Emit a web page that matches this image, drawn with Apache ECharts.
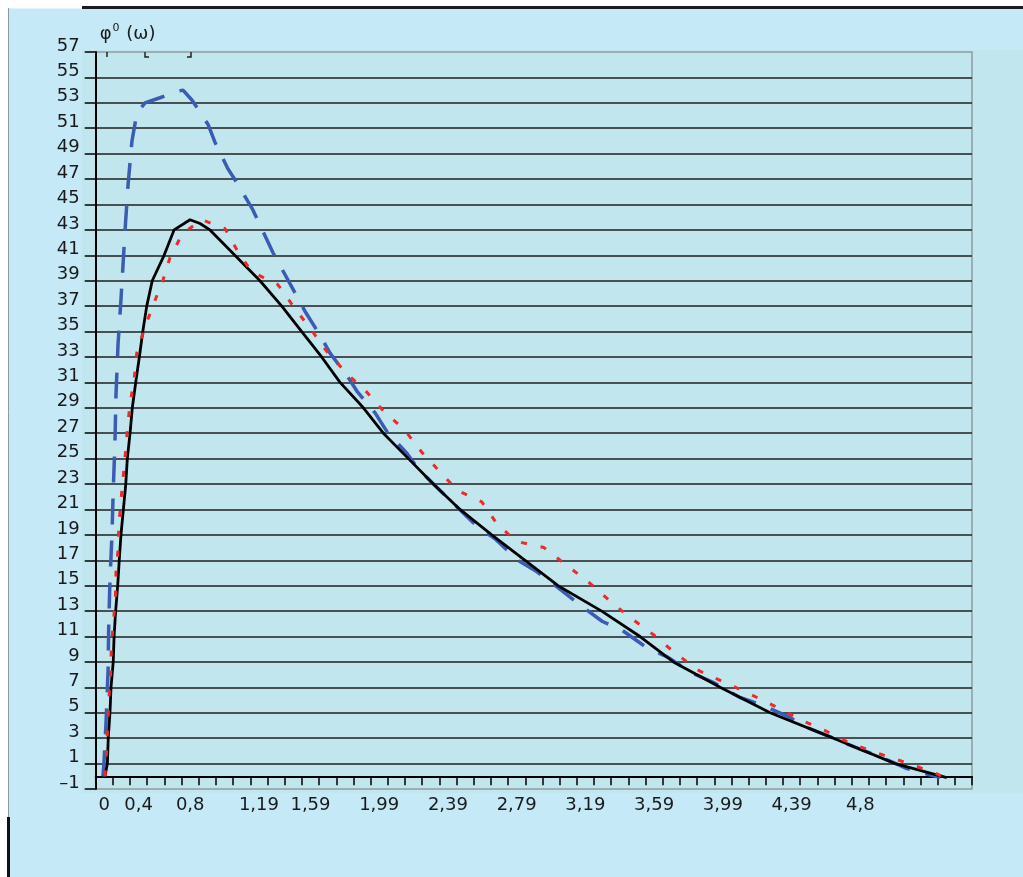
<!DOCTYPE html>
<html>
<head>
<meta charset="utf-8">
<script src="https://cdn.jsdelivr.net/npm/echarts@6/dist/echarts.min.js"></script>
<style>
html,body{margin:0;padding:0;background:#ffffff;}
#c{width:1023px;height:877px;}
</style>
</head>
<body>
<div id="c"></div>
<script>
// Tick labels of the frequency axis, one per category slot (51 slots)
const tickLabels = [
  '0','','0,4','','','0,8','','','','1,19','','','1,59','','','','1,99','','','','2,39','','','',
  '2,79','','','','3,19','','','','3,59','','','','3,99','','','','4,39','','','','4,8','','','','','',''
];

// Positions along the frequency axis (in category-slot units) and phase values
const blackPos = [0.54,0.68,0.73,0.83,0.89,1.02,1.07,1.16,1.28,1.37,1.47,1.61,1.75,1.84,2.00,2.13,2.33,2.54,2.74,2.97,3.29,3.98,4.56,5.49,6.07,6.65,8.10,9.56,10.83,11.99,13.15,14.22,15.58,16.74,18.20,19.65,21.20,23.05,24.99,26.91,29.45,31.68,33.62,36.34,39.25,42.93,46.53,49.53];
const blackPhi = [0,1,3,5,7,9,11,13,15,17,19,21,23,25,27,29,31,33,35,37,39,41,43,43.8,43.5,43,41,39,37,35,33,31,29,27,25,23,21,19,17,15,13,11,9,7,5,3,1,-0.1];

const bluePos = [0.42,0.48,0.60,0.72,0.76,0.83,0.95,1.02,1.12,1.18,1.30,1.47,1.71,1.88,2.11,2.40,2.87,3.74,4.73,5.08,5.61,6.54,6.94,7.70,8.22,9.10,10.32,11.66,12.18,13.06,13.64,14.69,15.21,16.26,16.96,18.12,18.76,20.04,21.03,22.25,23.24,24.58,25.57,26.85,28.07,29.47,30.63,32.09,33.25,34.76,35.93,37.50,38.78,40.30,41.29,42.92,44.19,46.06,47.22,49.14];
const bluePhi = [0,1,4.2,8.3,12,15.4,19.1,22.5,26.2,30,34,37.5,43,46.5,50,52.2,53,53.4,53.9,54,53.2,51.3,49.9,47.8,46.7,44.7,41.2,37.9,36.6,34.7,33.3,31.4,30.3,28.6,27.1,25.4,24.2,22.5,21.2,19.6,18.7,17.0,16.2,14.9,13.6,12.2,11.5,10.1,9.4,8.1,7.4,6.2,5.6,4.7,3.9,3.0,2.3,1.3,0.6,-0.1];

const redPos = [0.54,0.64,0.77,0.87,0.91,1.02,1.14,1.18,1.30,1.35,1.47,1.61,1.75,1.86,2.00,2.25,2.39,2.83,3.35,3.93,4.32,5.04,6.17,7.53,8.27,9.08,10.60,11.60,12.57,13.41,14.61,15.73,16.78,17.95,18.98,19.94,21.05,22.47,23.34,24.46,26.09,27.31,28.67,29.84,31.10,32.50,33.72,35.13,36.57,38.04,39.54,41.09,42.45,43.91,45.55,47.21,48.85,49.26];
const redPhi = [0,2.2,6.2,8.1,10.1,12.0,13.9,16.0,17.8,19.8,21.7,23.7,25.7,27.6,29.3,31.4,33.3,35.2,37.1,39.1,40.8,42.7,43.8,43.1,41.3,39.7,38.7,36.8,35.1,33.5,31.7,30.3,28.7,27.3,25.5,24.1,22.5,21.6,19.9,18.5,18.0,16.7,15.3,13.9,12.5,11.1,9.7,8.3,7.4,6.5,5.5,4.4,3.6,2.6,1.8,1.05,0.26,0];

const yMin = -1, yMax = 57, yStep = 2;

function pairs(xs, ys){ return xs.map((x,i)=>[x, ys[i]]); }

const FONT = 'DejaVu Sans';
const chart = echarts.init(document.getElementById('c'), null, {renderer:'canvas'});
chart.setOption({
  backgroundColor: '#ffffff',
  animation: false,
  graphic: [
    {type:'rect', z:-20, silent:true, shape:{x:8.5,y:8.5,width:1015,height:869}, style:{fill:'#c5e9f7'}},
    {type:'rect', z:-19, silent:true, shape:{x:82,y:50,width:941,height:743}, style:{fill:'#c1e6ee'}},
    {type:'rect', z:-18, silent:true, shape:{x:82,y:6,width:941,height:3}, style:{fill:'#1c1c1c'}},
    {type:'line', z:-18, silent:true, shape:{x1:8.5,y1:8,x2:8.5,y2:817}, style:{stroke:'#8a9aa0',lineWidth:1}},
    {type:'rect', z:-18, silent:true, shape:{x:7,y:817,width:3,height:60}, style:{fill:'#111111'}},
    {type:'polyline', z:10, silent:true, shape:{points:[[107,52],[107,57]]}, style:{stroke:'#222',lineWidth:1.5,fill:null}},
    {type:'polyline', z:10, silent:true, shape:{points:[[145,52],[145,57],[149,57]]}, style:{stroke:'#222',lineWidth:1.5,fill:null}},
    {type:'polyline', z:10, silent:true, shape:{points:[[187,57],[191,57],[191,52]]}, style:{stroke:'#222',lineWidth:1.5,fill:null}}
  ],
  grid: {
    left: 95.7, top: 52, right: 51, bottom: 88,
    show: true, backgroundColor: 'transparent', borderColor: '#8d9ca0', borderWidth: 1.5,
    containLabel: false
  },
  xAxis: [
    {type:'value', min:0, max:tickLabels.length, show:false, axisLine:{onZero:false}},
    {
      type:'category', data: tickLabels, boundaryGap: true, position:'bottom',
      axisLine:{show:true, onZero:true, lineStyle:{color:'#000', width:2}},
      axisTick:{show:true, interval:0, length:9, lineStyle:{color:'#000', width:1.5}},
      axisLabel:{interval:0, margin:7, fontSize:18, fontFamily:FONT, color:'#1a1a1a'},
      splitLine:{show:false}
    }
  ],
  yAxis: {
    type:'value', min:yMin, max:yMax, interval:yStep,
    name:'{a|φ}{s|0}{a| (ω)}', nameLocation:'end', nameGap:7,
    nameTextStyle:{
      align:'left', verticalAlign:'bottom', padding:[0,0,0,4],
      rich:{
        a:{fontSize:18, fontFamily:FONT, color:'#1a1a1a', lineHeight:22},
        s:{fontSize:11, fontFamily:FONT, color:'#1a1a1a', verticalAlign:'top', lineHeight:12, padding:[0,1,0,1]}
      }
    },
    axisLine:{show:true, onZero:false, lineStyle:{color:'#000', width:2}},
    axisTick:{show:true, length:11, lineStyle:{color:'#000', width:1.5}},
    axisLabel:{margin:16, fontSize:18, fontFamily:FONT, color:'#1a1a1a', verticalAlign:'bottom', lineHeight:12,
      formatter: v => (v < 0 ? '\u2013' + Math.abs(v) : String(v))},
    splitLine:{show:true, showMinLine:false, showMaxLine:false, lineStyle:{color:'#1e1e1e', width:1.5}}
  },
  series: [
    {type:'line', xAxisIndex:0, data:pairs(bluePos, bluePhi), symbol:'none', z:3,
     lineStyle:{color:'#3a5cb3', width:3.5, type:[26,16], cap:'butt'}},
    {type:'line', xAxisIndex:0, data:pairs(blackPos, blackPhi), symbol:'none', z:4,
     lineStyle:{color:'#000000', width:2.8}},
    {type:'line', xAxisIndex:0, data:pairs(redPos, redPhi), symbol:'none', z:5,
     lineStyle:{color:'#ee2a2a', width:3, type:[6,14], cap:'butt'}}
  ]
});
</script>
</body>
</html>
